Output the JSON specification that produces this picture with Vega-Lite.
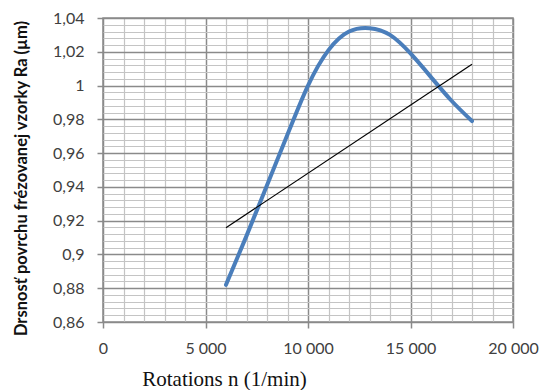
{
  "$schema": "https://vega.github.io/schema/vega-lite/v6.json",
  "width": 410,
  "height": 304,
  "autosize": {"type": "none"},
  "padding": {"left": 103, "top": 18, "right": 30, "bottom": 68},
  "background": "white",
  "config": {"view": {"stroke": "#8c8c8c", "strokeWidth": 1.5}},
  "datasets": {
    "curve": [
      {"rpm": 6000, "ra": 0.882},
      {"rpm": 7000, "ra": 0.911},
      {"rpm": 8000, "ra": 0.941},
      {"rpm": 9000, "ra": 0.971},
      {"rpm": 10000, "ra": 1.000},
      {"rpm": 11000, "ra": 1.021},
      {"rpm": 12000, "ra": 1.032},
      {"rpm": 13000, "ra": 1.034},
      {"rpm": 14000, "ra": 1.030},
      {"rpm": 15000, "ra": 1.019},
      {"rpm": 16000, "ra": 1.005},
      {"rpm": 17000, "ra": 0.991},
      {"rpm": 18000, "ra": 0.979}
    ],
    "trend": [
      {"rpm": 6000, "ra": 0.9158},
      {"rpm": 18000, "ra": 1.0126}
    ]
  },
  "encoding": {
    "x": {
      "field": "rpm", "type": "quantitative",
      "scale": {"domain": [0, 20000], "nice": false, "zero": false},
      "axis": {
        "values": [0,1000,2000,3000,4000,5000,6000,7000,8000,9000,10000,11000,12000,13000,14000,15000,16000,17000,18000,19000,20000],
        "labelExpr": "datum.value % 5000 === 0 ? replace(format(datum.value, ','), ',', ' ') : ''",
        "grid": true,
        "gridColor": {"condition": {"test": "datum.value % 5000 === 0", "value": "#8a8a8a"}, "value": "#c4c4c4"},
        "gridWidth": {"condition": {"test": "datum.value % 5000 === 0", "value": 1.5}, "value": 1.2},
        "gridOpacity": 1,
        "domain": false,
        "ticks": true,
        "tickSize": 6,
        "tickColor": "#8a8a8a",
        "tickWidth": 1.5,
        "tickOpacity": {"condition": {"test": "datum.value % 5000 === 0", "value": 1}, "value": 0},
        "labelFont": "Lato",
        "labelFontSize": 16,
        "labelColor": "#404040",
        "labelPadding": 12,
        "labelOverlap": false,
        "labelFlush": false,
        "title": "Rotations n (1/min)",
        "titleFont": "Liberation Serif",
        "titleFontSize": 21,
        "titleFontWeight": "normal",
        "titleColor": "#111111",
        "titleX": 121,
        "titleY": 63,
        "titleBaseline": "alphabetic",
        "titleAlign": "center"
      }
    },
    "y": {
      "field": "ra", "type": "quantitative",
      "scale": {"domain": [0.86, 1.04], "nice": false, "zero": false},
      "axis": {
        "values": [0.86,0.864,0.868,0.872,0.876,0.88,0.884,0.888,0.892,0.896,0.9,0.904,0.908,0.912,0.916,0.92,0.924,0.928,0.932,0.936,0.94,0.944,0.948,0.952,0.956,0.96,0.964,0.968,0.972,0.976,0.98,0.984,0.988,0.992,0.996,1,1.004,1.008,1.012,1.016,1.02,1.024,1.028,1.032,1.036,1.04],
        "labelExpr": "abs(datum.value*50 - round(datum.value*50)) < 0.000001 ? replace(format(datum.value, '.2~f'), '.', ',') : ''",
        "grid": true,
        "gridColor": {"condition": {"test": "abs(datum.value*50 - round(datum.value*50)) < 0.000001", "value": "#8a8a8a"}, "value": "#c4c4c4"},
        "gridWidth": {"condition": {"test": "abs(datum.value*50 - round(datum.value*50)) < 0.000001", "value": 1.5}, "value": 1.2},
        "gridOpacity": 1,
        "domain": false,
        "ticks": true,
        "tickSize": 6,
        "tickColor": "#8a8a8a",
        "tickWidth": 1.5,
        "tickOpacity": {"condition": {"test": "abs(datum.value*50 - round(datum.value*50)) < 0.000001", "value": 1}, "value": 0},
        "labelFont": "Lato",
        "labelFontSize": 16,
        "labelColor": "#404040",
        "labelPadding": 13,
        "labelOverlap": false,
        "labelFlush": false,
        "title": "Drsnosť povrchu frézovanej vzorky Ra (µm)",
        "titleFont": "Lato",
        "titleFontSize": 16.5,
        "titleFontWeight": "bold",
        "titleColor": "#111111",
        "titleX": -82,
        "titleY": 160,
        "titleBaseline": "middle",
        "titleAlign": "center",
        "titleAngle": -90
      }
    }
  },
  "layer": [
    {
      "data": {"name": "curve"},
      "mark": {"type": "line", "interpolate": "natural", "color": "#4a7ebb", "strokeWidth": 4, "strokeCap": "round"}
    },
    {
      "data": {"name": "trend"},
      "mark": {"type": "line", "color": "#000000", "strokeWidth": 1.2}
    }
  ]
}
